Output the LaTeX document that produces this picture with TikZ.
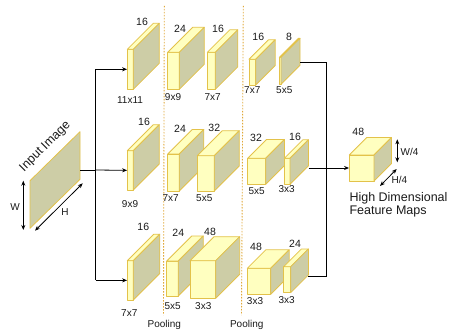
\documentclass[tikz,border=0pt]{standalone}
\usepackage{fontspec}
\setmainfont{Liberation Sans}
\usetikzlibrary{arrows.meta,fit}
\definecolor{frontc}{HTML}{FFFFC0}
\definecolor{sidec}{HTML}{CDCDA6}
\definecolor{edgec}{HTML}{E3C24A}
\definecolor{dotc}{HTML}{E0A838}
\definecolor{txtc}{HTML}{1A1A1A}
\newcommand\cuboid[6]{%
  \filldraw[cubeline,fill=frontc] (#2,#3) rectangle (#4,#5);
  \filldraw[cubeline,fill=frontc] (#2,#3) -- (#2+#6,#3-#6) -- (#4+#6,#3-#6) -- (#4,#3) -- cycle;
  \filldraw[cubeline,fill=sidec] (#4,#3) -- (#4+#6,#3-#6) -- (#4+#6,#5-#6) -- (#4,#5) -- cycle;
  \node[inner sep=0pt,fit={(#2,#3)(#4,#5)}] (#1) {};
  \coordinate (#1-br) at (#4+#6,#5-#6);
}
\tikzset{
  cubeline/.style={draw=edgec,line width=0.8pt,line join=round},
  conn/.style={draw=black,line width=0.8pt},
  arr/.style={conn,-{Stealth[length=5pt,width=4pt]}},
  darr/.style={conn,{Stealth[length=5pt,width=4pt]}-{Stealth[length=5pt,width=4pt]}},
  dim/.style={text=txtc,font=\fontsize{10.5}{12}\selectfont,inner sep=0pt},
  ker/.style={text=txtc,font=\fontsize{10}{12}\selectfont,inner sep=0pt},
  big/.style={text=txtc,font=\fontsize{12.5}{14}\selectfont,inner sep=0pt},
  pool/.style={draw=dotc,line width=0.9pt,dash pattern=on 1.5pt off 1.5pt},
}
\begin{document}
\begin{tikzpicture}[x=1pt,y=-1pt]
\useasboundingbox (0,0) rectangle (449,331);
% pooling separators
\draw[pool] (164.3,6) -- (163.5,315);
\draw[pool] (243.3,6) -- (241.5,315);
\node[ker] (pl1) at (164.3,325) {Pooling};
\node[ker] (pl2) at (246.7,325) {Pooling};
% input image
\filldraw[cubeline,fill=sidec] (30,180.7) -- (80,131.7) -- (80,179.3) -- (30,228.3) -- cycle;
\coordinate (inp) at (80,170);
\node[big,rotate=45] (inlab) at (45.3,146.7) {Input Image};
\coordinate (w1) at (23.3,180.7);
\coordinate (w2) at (23.3,230);
\draw[darr] (w1) -- (w2);
\node[ker] (wl) at (15,206.7) {W};
\coordinate (h1) at (35,230.7);
\coordinate (h2) at (82.7,183.3);
\draw[darr] (h1) -- (h2);
\node[ker] (hl) at (65,211.7) {H};
% top row
\cuboid{A1}{127.3}{49.3}{133.3}{89.3}{26}
\cuboid{A2}{167.7}{52.3}{179.3}{89.3}{25}
\cuboid{A3}{207.3}{52.3}{215.3}{89.3}{22.5}
\cuboid{A4}{249}{59.3}{255.7}{85}{19.5}
\cuboid{A5}{279.3}{57.3}{281}{84.3}{19}
% middle row
\cuboid{B1}{127.3}{150.7}{133.3}{190}{26}
\cuboid{B2}{167.7}{154}{179.3}{191}{24.5}
\cuboid{B3}{197.3}{155.7}{214.3}{191}{25}
\cuboid{B4}{247.7}{158.3}{265.7}{184.3}{18.8}
\cuboid{B5}{284.3}{158.3}{290}{184.3}{18.5}
% bottom row
\cuboid{C1}{127.3}{260.7}{133.3}{300}{26.5}
\cuboid{C2}{166.7}{261}{178.3}{296}{25}
\cuboid{C3}{190}{260.7}{215.7}{298.3}{24}
\cuboid{C4}{247.3}{268.3}{270.7}{294.3}{18.5}
\cuboid{C5}{283.7}{266.7}{290.7}{292.7}{17.7}
% output
\cuboid{O}{349.3}{155}{374}{181}{17.5}
% labels top row
\node[dim] at (142,22) {16};
\node[dim] at (180,29) {24};
\node[dim] at (218,29) {16};
\node[dim] at (258.3,36.7) {16};
\node[dim] at (289,36.7) {8};
\node[ker] at (130,100) {11x11};
\node[ker] at (173,97) {9x9};
\node[ker] at (212.7,97) {7x7};
\node[ker] at (252.3,90) {7x7};
\node[ker] at (284.3,90) {5x5};
% labels middle row
\node[dim] at (144,122.3) {16};
\node[dim] at (180,129.3) {24};
\node[dim] at (214.3,128.3) {32};
\node[dim] at (256,138.3) {32};
\node[dim] at (295,136.7) {16};
\node[ker] at (130,204.3) {9x9};
\node[ker] at (170.7,197.7) {7x7};
\node[ker] at (204.3,198.3) {5x5};
\node[ker] at (256.7,190.7) {5x5};
\node[ker] at (286.7,189.3) {3x3};
% labels bottom row
\node[dim] at (143.3,226.7) {16};
\node[dim] at (178.3,233.3) {24};
\node[dim] at (210,231.7) {48};
\node[dim] at (256,246.7) {48};
\node[dim] at (295,244.3) {24};
\node[ker] at (129.3,313.3) {7x7};
\node[ker] at (172.7,306) {5x5};
\node[ker] at (203.3,306) {3x3};
\node[ker] at (255,300.7) {3x3};
\node[ker] at (286.7,300) {3x3};
% output labels
\node[dim] at (358.3,132.3) {48};
\coordinate (wq1) at (397.3,139.3);
\coordinate (wq2) at (397.3,162.3);
\draw[darr] (wq1) -- (wq2);
\node[ker] at (409.5,151.7) {W/4};
\coordinate (hq1) at (380,186);
\coordinate (hq2) at (396.7,169);
\draw[darr] (hq1) -- (hq2);
\node[ker] at (399.5,180) {H/4};
\node[big,anchor=west] (t1) at (349.3,198.3) {High Dimensional};
\node[big,anchor=west] (t2) at (349.3,211) {Feature Maps};
% left connectors
\coordinate (trunk) at (95.7,170);
\draw[conn] (inp) -- (trunk);
\draw[conn] (trunk |- A1.west) -- (trunk |- C1.west);
\draw[arr] (trunk |- A1.west) -- (A1.west);
\draw[arr] (trunk) -- (B1.west);
\draw[arr] (trunk |- C1.west) -- (C1.west);
% right connectors
\coordinate (bus) at (326,168);
\draw[conn] ([yshift=2.6pt]A5-br) -| (bus);
\draw[conn] (bus) |- ([yshift=-1pt]C5-br);
\draw[arr] (B5-br |- O.west) -- (O.west);
\end{tikzpicture}
\end{document}
